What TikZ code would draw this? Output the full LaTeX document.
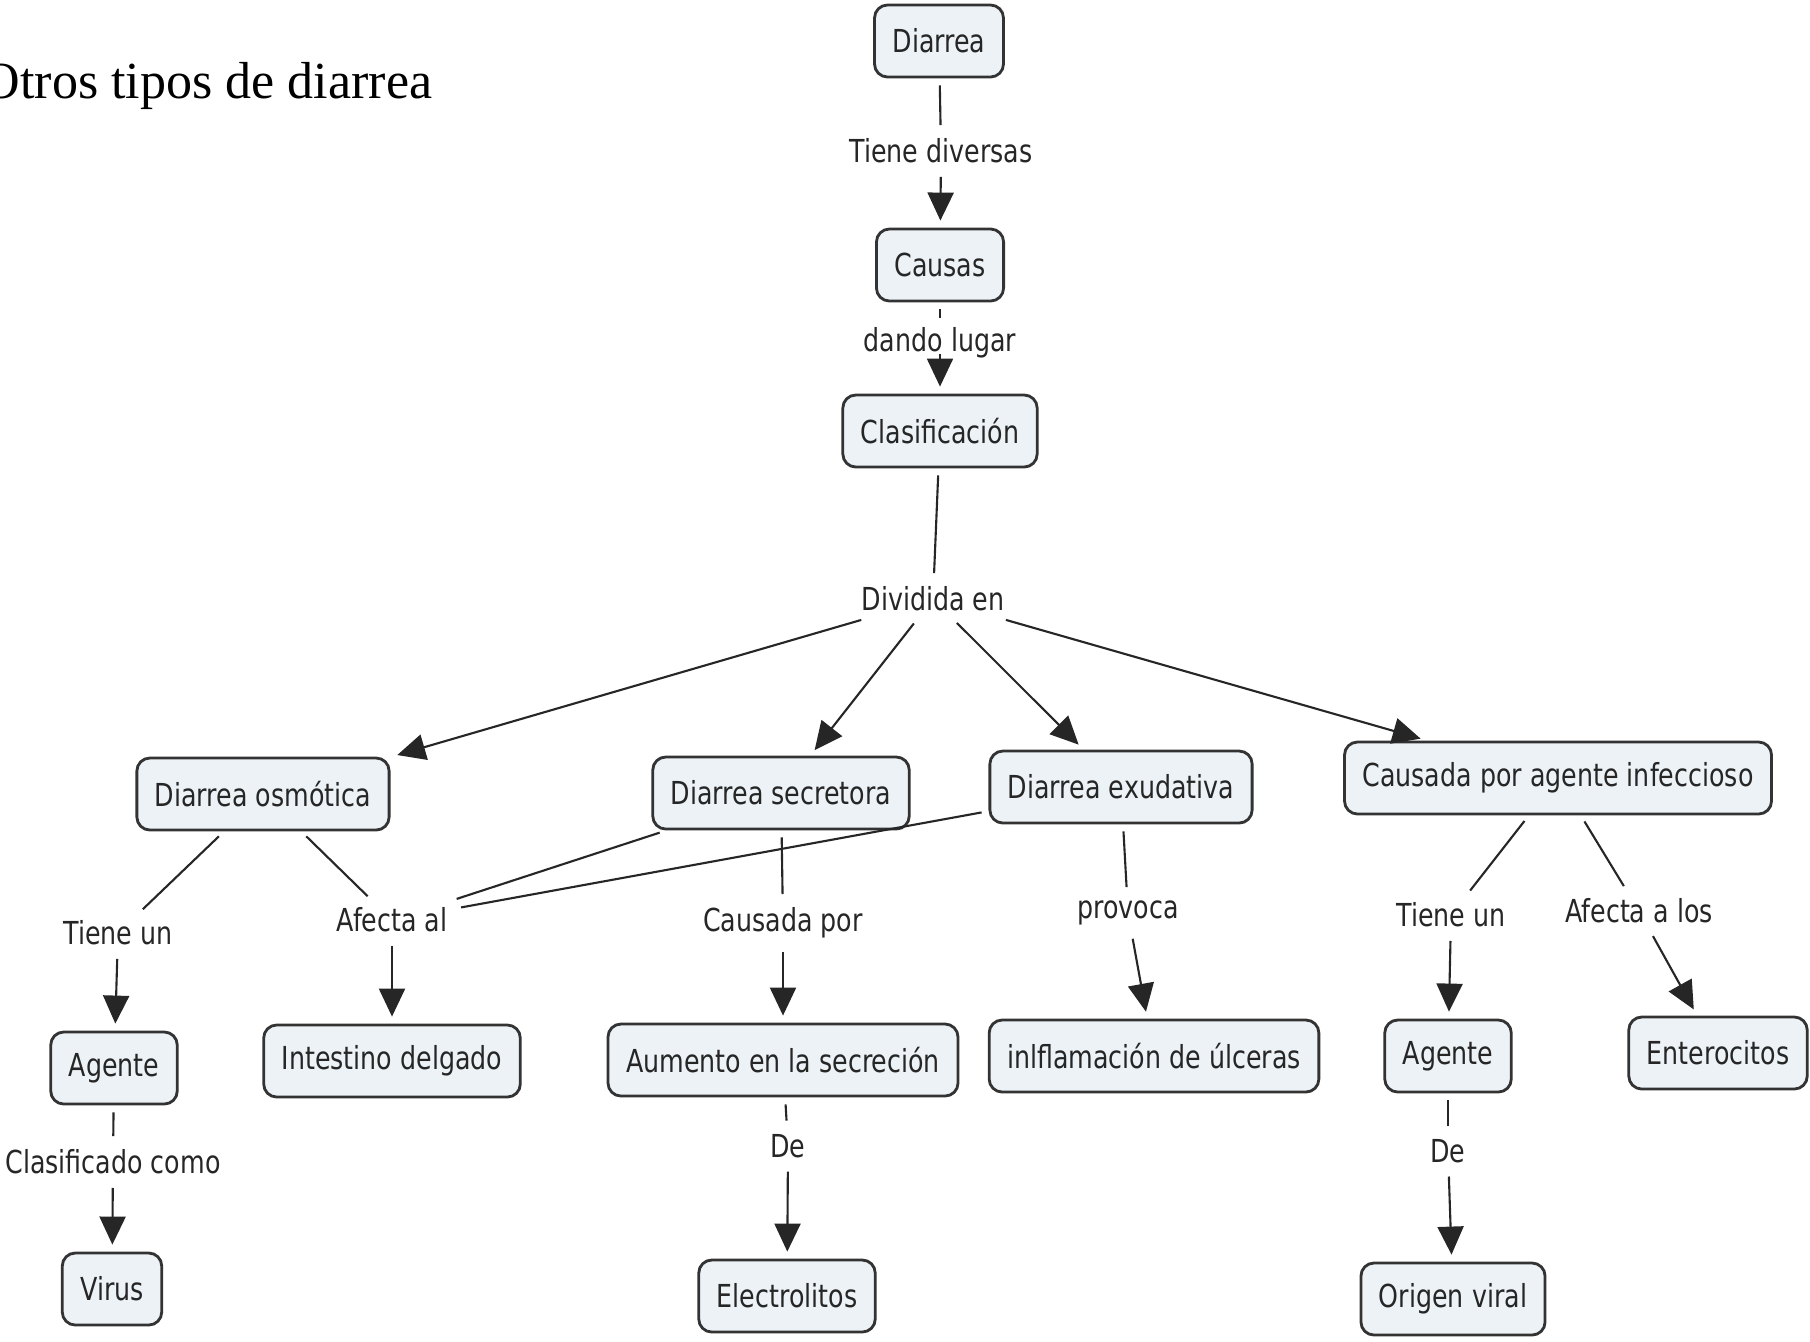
\documentclass[tikz,border=0pt]{standalone}
\usepackage{fontspec}
\usepackage{tikz}
\usetikzlibrary{arrows.meta,positioning}
\newfontfamily\mapfont{DejaVu Sans}[FakeStretch=0.8]
\newfontfamily\titlefont{Liberation Serif}
\definecolor{boxfill}{RGB}{236,242,246}

\begin{document}
\begin{tikzpicture}[
    x=0.01cm, y=-0.01cm,
    every node/.style={font=\mapfont\fontsize{9}{11}\selectfont,text=black!85},
    concept/.style={draw=black!80,line width=0.8pt,rounded corners=0.13cm,fill=boxfill,
                    minimum height=0.72cm,inner xsep=0.18cm},
    lbl/.style={inner sep=0.06cm},
    fline/.style={line width=0.6pt,black!85,shorten <=0.07cm,shorten >=0.07cm},
    line/.style={fline,-{Triangle[length=0.28cm,width=0.26cm]}}
]
\useasboundingbox (0,0) rectangle (1810,1341);

% Title
\node[font=\titlefont\fontsize{14.8}{18}\selectfont,text=black,anchor=base east,inner sep=0pt] (TIT)
    at (433,98) {Otros tipos de diarrea};

% Main chain
\node[concept] (DIA) at (939,41) {Diarrea};
\node[concept] (CAU) at (940,265) {Causas};
\node[concept] (CLA) at (940,431) {Clasificación};
\node[lbl] (L1) at (941,151) {Tiene diversas};
\node[lbl,inner sep=0.02cm] (L2) at (940,343) {dando lugar};
\node[lbl] (L3) at (933,599) {Dividida en};
\draw[fline] (DIA) -- (L1);
\draw[line] (L1) -- (CAU);
\draw[fline] (CAU) -- (L2);
\draw[line] (L2) -- (CLA);
\draw[fline] (CLA) -- (L3);

% Types
\node[concept] (OSM) at (263,794) {Diarrea osmótica};
\node[concept] (SEC) at (781,793) {Diarrea secretora};
\node[concept] (EXU) at (1121,787) {Diarrea exudativa};
\node[concept] (INF) at (1558,778) {Causada por agente infeccioso};
\draw[line] (L3) -- (OSM);
\draw[line] (L3) -- (SEC);
\draw[line] (L3) -- (EXU);
\draw[line] (L3) -- (INF);

% Second level
\node[concept] (AG1) at (114,1068) {Agente};
\node[concept] (INT) at (392,1061) {Intestino delgado};
\node[concept] (AUM) at (783,1060) {Aumento en la secreción};
\node[concept] (ULC) at (1154,1056) {inlflamación de úlceras};
\node[concept] (AG2) at (1448,1056) {Agente};
\node[concept] (ENT) at (1718,1053) {Enterocitos};

\node[lbl] (L4) at (118,933) {Tiene un};
\node[lbl] (L5) at (392,920) {Afecta al};
\node[lbl] (L6) at (783,923) {Causada por};
\node[lbl] (L7) at (1128,913) {provoca};
\node[lbl] (L8) at (1451,915) {Tiene un};
\node[lbl] (L9) at (1639,911) {Afecta a los};

\draw[fline] (OSM) -- (L4);
\draw[line] (L4) -- (AG1);
\draw[fline] (OSM) -- (L5);
\draw[fline] (SEC) -- (L5);
\draw[fline] (EXU) -- (L5);
\draw[line] (L5) -- (INT);
\draw[fline] (SEC) -- (L6);
\draw[line] (L6) -- (AUM);
\draw[fline] (EXU) -- (L7);
\draw[line] (L7) -- (ULC);
\draw[fline] (INF) -- (L8);
\draw[line] (L8) -- (AG2);
\draw[fline] (INF) -- (L9);
\draw[line] (L9) -- (ENT);

% Third level
\node[concept] (VIR) at (112,1289) {Virus};
\node[concept] (ELE) at (787,1296) {Electrolitos};
\node[concept] (ORI) at (1453,1299) {Origen viral};

\node[lbl] (L10) at (113,1162) {Clasificado como};
\node[lbl] (L11) at (788,1146) {De};
\node[lbl] (L12) at (1448,1151) {De};

\draw[fline] (AG1) -- (L10);
\draw[line] (L10) -- (VIR);
\draw[fline] (AUM) -- (L11);
\draw[line] (L11) -- (ELE);
\draw[fline] (AG2) -- (L12);
\draw[line] (L12) -- (ORI);

\end{tikzpicture}
\end{document}
